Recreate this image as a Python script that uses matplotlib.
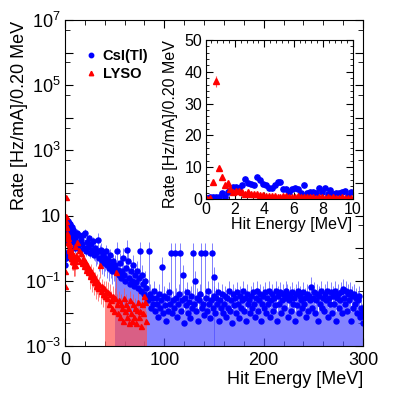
import numpy as np
import matplotlib
matplotlib.use('Agg')
import matplotlib.pyplot as plt
from matplotlib.ticker import FixedLocator, FuncFormatter, MultipleLocator, NullFormatter
from matplotlib.lines import Line2D

plt.rcParams['font.family'] = 'Liberation Sans'
plt.rcParams['mathtext.fontset'] = 'custom'
plt.rcParams['mathtext.rm'] = 'Liberation Sans'

# low energy bins, 0.2 MeV wide (0 - 10 MeV)
low_e = np.arange(0.1, 10.0, 0.2)
csi_low = [0.3, 0.5, 0.5, 0.5, 0.6, 1.8, 0.7, 2.3, 2.9, 3.9,
           3.9, 3.6, 4.4, 6.2, 4.9, 4.6, 4.4, 6.8, 6.1, 4.6,
           4.4, 3.5, 3.5, 4.5, 5.2, 5.4, 3.0, 3.3, 2.3, 3.3,
           3.6, 3.0, 2.0, 4.4, 2.0, 2.1, 2.1, 2.0, 3.6, 2.1,
           3.6, 1.5, 2.9, 1.5, 1.8, 2.0, 2.1, 2.5, 1.0, 2.1]
lyso_low = [0.07, 0.2, 5.4, 37.0, 9.6, 7.0, 4.4, 4.9, 3.0, 2.3,
            2.6, 2.6, 2.3, 1.6, 2.1, 1.5, 1.5, 1.6, 1.4, 1.3,
            1.0, 1.0, 0.9, 0.9, 0.7, 0.6, 1.0, 0.8, 0.6, 0.6,
            0.5, 0.8, 0.5, 0.6, 0.5, 0.7, 0.5, 0.4, 0.6, 0.5,
            0.4, 0.5, 0.4, 0.5, 0.3, 0.4, 0.5, 0.3, 0.4, 0.3]

# higher energies, shown in the main panel only
csi_e = np.arange(10.5, 300.0, 1.0)
csi_high = [2.2, 1.5, 3.0, 1.2, 2.5, 0.9, 1.8, 1.3, 2.6, 1.0,
            3.0, 0.8, 1.6, 1.1, 2.0, 0.7, 1.3, 0.9, 1.7, 0.6,
            1.0, 0.7, 0.8, 1.8, 0.5, 0.8, 0.9, 0.4, 0.6, 0.35,
            0.5, 0.8, 0.3, 0.45, 0.25, 0.6, 0.3, 0.2, 0.4, 0.25,
            0.3, 0.18, 0.8, 0.22, 0.15, 0.35, 0.12, 0.2, 0.5, 0.15,
            0.1, 0.25, 0.9, 0.4, 0.12, 0.08, 0.2, 0.1, 0.3, 0.07,
            0.15, 0.09, 0.2, 0.06, 0.12, 0.8, 0.05, 0.15, 0.08, 0.04,
            0.1, 0.06, 0.03, 0.025, 0.8, 0.04, 0.015, 0.03, 0.02, 0.05,
            0.012, 0.03, 0.02, 0.008, 0.04, 0.015, 0.025, 0.27, 0.01, 0.035,
            0.018, 0.006, 0.03, 0.012, 0.045, 0.02, 0.73, 0.01, 0.025, 0.015,
            0.73, 0.03, 0.008, 0.02, 0.04, 0.73, 0.012, 0.025, 0.15, 0.005,
            0.03, 0.018, 0.045, 0.01, 0.022, 0.007, 0.035, 0.015, 0.73, 0.02,
            0.1, 0.012, 0.03, 0.006, 0.025, 0.04, 0.73, 0.015, 0.02, 0.009,
            0.73, 0.03, 0.012, 0.05, 0.02, 0.007, 0.025, 0.73, 0.015, 0.035,
            0.13, 0.01, 0.03, 0.02, 0.045, 0.006, 0.025, 0.015, 0.04, 0.01,
            0.02, 0.035, 0.008, 0.03, 0.015, 0.05, 0.012, 0.025, 0.005, 0.04,
            0.018, 0.03, 0.01, 0.045, 0.02, 0.007, 0.035, 0.015, 0.025, 0.05,
            0.012, 0.03, 0.006, 0.04, 0.02, 0.025, 0.01, 0.035, 0.015, 0.045,
            0.02, 0.008, 0.03, 0.05, 0.012, 0.025, 0.04, 0.006, 0.02, 0.035,
            0.015, 0.045, 0.01, 0.03, 0.02, 0.05, 0.008, 0.025, 0.04, 0.012,
            0.03, 0.018, 0.05, 0.006, 0.035, 0.02, 0.045, 0.01, 0.025, 0.04,
            0.015, 0.03, 0.05, 0.04, 0.008, 0.025, 0.035, 0.012, 0.045, 0.02,
            0.03, 0.006, 0.04, 0.018, 0.05, 0.01, 0.035, 0.025, 0.015, 0.045,
            0.02, 0.03, 0.008, 0.04, 0.012, 0.035, 0.025, 0.065, 0.015, 0.03,
            0.045, 0.01, 0.025, 0.04, 0.006, 0.035, 0.02, 0.05, 0.015, 0.03,
            0.012, 0.04, 0.025, 0.05, 0.008, 0.03, 0.02, 0.045, 0.01, 0.035,
            0.02, 0.05, 0.006, 0.03, 0.04, 0.015, 0.025, 0.045, 0.01, 0.055,
            0.03, 0.02, 0.05, 0.012, 0.04, 0.025, 0.045, 0.006, 0.035, 0.015,
            0.04, 0.02, 0.03, 0.01, 0.025, 0.035, 0.008, 0.015, 0.01, 0.005]
lyso_e = np.arange(10.5, 82.0, 1.0)
lyso_high = [1.2, 0.6, 1.5, 0.5, 0.9, 0.4, 0.7, 0.35, 0.5, 0.28,
             0.4, 0.22, 0.3, 0.18, 0.25, 0.14, 0.2, 0.11, 0.16, 0.09,
             0.12, 0.07, 0.1, 0.06, 0.08, 0.3, 0.05, 0.07, 0.04, 0.06,
             0.035, 0.05, 0.03, 0.045, 0.02, 0.04, 0.025, 0.015, 0.035, 0.012,
             0.03, 0.19, 0.02, 0.01, 0.025, 0.008, 0.02, 0.015, 0.006, 0.03,
             0.012, 0.02, 0.008, 0.015, 0.005, 0.025, 0.01, 0.006, 0.02, 0.008,
             0.015, 0.005, 0.013, 0.022, 0.008, 0.012, 0.004, 0.02, 0.01, 0.035,
             0.023, 0.006]

# relative errors read per energy range (upper / lower)
err_edges = [30.0, 50.0]
csi_err_up = [0.3, 0.6, 1.0]
csi_err_lo = [0.3, 0.6, 0.999]
lyso_edges = [25.0, 40.0]
lyso_err_up = [0.3, 0.6, 1.0]
lyso_err_lo = [0.3, 0.6, 0.999]
event_weight = 0.08  # for the 0-10 MeV bins

blue = '#0000ff'
red = '#ff0000'
blue_bar = '#4d4dff'
red_bar = '#ff5050'


def rel_errors(e, v, edges, up, lo):
    idx = np.digitize(e, edges)
    v = np.asarray(v)
    return np.array(lo)[idx] * v, np.array(up)[idx] * v


def low_errors(v):
    v = np.asarray(v)
    err = np.sqrt(v * event_weight)
    return np.minimum(err, v * 0.999), err


fig = plt.figure(figsize=(4.05, 3.94), dpi=100)
ax = fig.add_axes([65 / 405, 48 / 394, 298 / 405, 326 / 394])

# CsI
e_all = np.concatenate([low_e, csi_e])
v_all = np.concatenate([csi_low, csi_high])
lo1, up1 = low_errors(csi_low)
lo2, up2 = rel_errors(csi_e, csi_high, err_edges, csi_err_up, csi_err_lo)
ax.errorbar(e_all, v_all, yerr=[np.concatenate([lo1, lo2]), np.concatenate([up1, up2])],
            fmt='o', ms=3.6, color=blue, ecolor=blue_bar, elinewidth=0.5, capsize=0)

# LYSO
e_all = np.concatenate([low_e, lyso_e])
v_all = np.concatenate([lyso_low, lyso_high])
lo1, up1 = low_errors(lyso_low)
lo2, up2 = rel_errors(lyso_e, lyso_high, lyso_edges, lyso_err_up, lyso_err_lo)
ax.errorbar(e_all, v_all, yerr=[np.concatenate([lo1, lo2]), np.concatenate([up1, up2])],
            fmt='^', ms=3.6, color=red, ecolor=red_bar, elinewidth=0.5, capsize=0)

ax.set_yscale('log')
ax.set_xlim(0, 300)
ax.set_ylim(1e-3, 1e7)
ax.xaxis.set_major_locator(MultipleLocator(100))
ax.xaxis.set_minor_locator(MultipleLocator(20))
ax.yaxis.set_major_locator(FixedLocator([10.0 ** k for k in range(-3, 8)]))
ax.yaxis.set_minor_locator(FixedLocator([5 * 10.0 ** k for k in range(-3, 7)]))
ax.yaxis.set_minor_formatter(NullFormatter())


def ylab(y, pos):
    k = int(round(np.log10(y)))
    if k % 2 == 0:
        return ''
    if k == 1:
        return '10'
    return '$\\mathregular{10^{%d}}$' % k


ax.yaxis.set_major_formatter(FuncFormatter(ylab))
ax.tick_params(which='both', direction='in', top=True, right=True, labelsize=13)
ax.tick_params(which='major', length=6)
ax.tick_params(which='minor', length=3.5)
ax.tick_params(axis='x', pad=4)
ax.tick_params(axis='y', pad=3)

fig.text(20 / 405, 1 - 21 / 394, 'Rate [Hz/mA]/0.20 MeV', rotation=90,
         ha='center', va='top', fontsize=13)
fig.text(363 / 405, 1 - 380 / 394, 'Hit Energy [MeV]', ha='right', va='center', fontsize=13)

handles = [Line2D([], [], marker='o', ls='none', color=blue, ms=3.2),
           Line2D([], [], marker='^', ls='none', color=red, ms=3.2)]
ax.legend(handles, ['CsI(Tl)', 'LYSO'], loc='upper left',
          bbox_to_anchor=(78 / 405, 1 - 42 / 394), bbox_transform=fig.transFigure,
          frameon=False, prop={'weight': 'bold', 'size': 10.5},
          handlelength=0.8, handletextpad=0.4, borderpad=0, labelspacing=0.25)

# inset, 0 - 10 MeV
ins = fig.add_axes([205.5 / 405, 195 / 394, 147 / 405, 159 / 394])
lo, up = low_errors(csi_low)
ins.errorbar(low_e, csi_low, yerr=[lo, up], fmt='o', ms=3.8, color=blue,
             ecolor=blue_bar, elinewidth=0.8, capsize=0)
lo, up = low_errors(lyso_low)
ins.errorbar(low_e, lyso_low, yerr=[lo, up], fmt='^', ms=3.8, color=red,
             ecolor=red_bar, elinewidth=0.8, capsize=0)
ins.set_xlim(0, 10)
ins.set_ylim(0, 50)
ins.xaxis.set_major_locator(MultipleLocator(2))
ins.xaxis.set_minor_locator(MultipleLocator(0.4))
ins.yaxis.set_major_locator(MultipleLocator(10))
ins.yaxis.set_minor_locator(MultipleLocator(2))
ins.tick_params(which='both', direction='in', top=True, right=True, labelsize=11.5)
ins.tick_params(which='major', length=5)
ins.tick_params(which='minor', length=2.5)
ins.tick_params(pad=2.5)
fig.text(170 / 405, 1 - 40 / 394, 'Rate [Hz/mA]/0.20 MeV', rotation=90,
         ha='center', va='top', fontsize=11.5)
fig.text(352 / 405, 1 - 225 / 394, 'Hit Energy [MeV]', ha='right', va='center', fontsize=11.5)

fig.savefig('out.png', dpi=100)
